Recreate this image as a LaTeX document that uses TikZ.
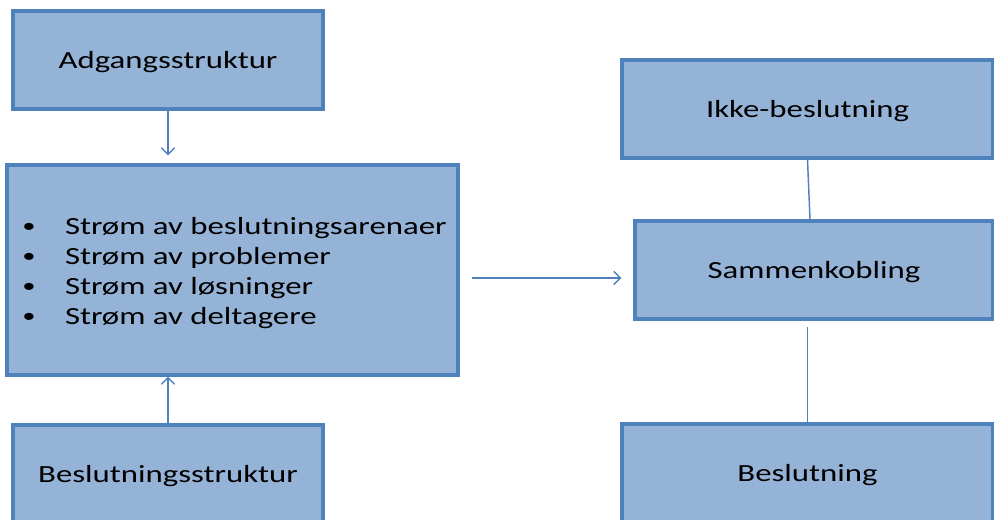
\documentclass[tikz,border=0pt]{standalone}
\usepackage{fontspec}
\setmainfont{Carlito}[FakeStretch=1.33]
\usetikzlibrary{arrows.meta,calc}
\definecolor{boxfill}{HTML}{95B3D7}
\definecolor{boxline}{HTML}{4F81BD}
\newcommand{\bul}{\raisebox{1.6pt}{\fontsize{15}{15}\selectfont •}}
\begin{document}
\begin{tikzpicture}[x=0.75pt,y=-0.75pt,
  box/.style={draw=boxline, fill=boxfill, line width=2.3pt, rectangle, inner sep=0pt,
              font=\fontsize{18.5}{22.5}\selectfont, text=black},
  onebox/.style={box, text depth=0pt},
  conn/.style={draw=boxline, line width=1.1pt},
  arrowed/.style={-{Straight Barb[length=5pt,width=10pt]}}]
\useasboundingbox (0,0) rectangle (994,520);
\clip (0,0) rectangle (994,520);
\node[onebox, minimum width=232.5pt, minimum height=73.5pt] (adg) at (168,60) {Adgangsstruktur};
\node[box, minimum width=338.25pt, minimum height=157.5pt, align=left] (strm) at (232.5,270)
  {\begin{tabular}{@{\hspace{3pt}}l@{\hspace{22pt}}l@{}}
   \bul & \rule{0pt}{20.5pt}Strøm av beslutningsarenaer\\
   \bul & Strøm av problemer\\
   \bul & Strøm av løsninger\\
   \bul & Strøm av deltagere
   \end{tabular}};
\node[onebox, minimum width=232.5pt, minimum height=73.5pt] (bst) at (168,474) {Beslutningsstruktur};
\node[onebox, minimum width=278.25pt, minimum height=73.5pt] (ikke) at (807.5,109) {Ikke-beslutning};
\node[onebox, minimum width=268.5pt, minimum height=73.5pt] (samm) at (814,270) {Sammenkobling};
\node[onebox, minimum width=278.25pt, minimum height=73.5pt] (besl) at (807.5,473) {Beslutning};

\draw[conn, arrowed, shorten >=6pt] (adg.south) -- (adg.south |- strm.north);
\draw[conn, arrowed] (bst.north) -- (bst.north |- strm.south);
\draw[conn, arrowed, shorten <=9pt, shorten >=9pt] ([yshift=-6pt]strm.east) -- ([yshift=-6pt]samm.west);
\draw[conn] (ikke.south) -- ([xshift=-3pt]samm.north);
\draw[conn, shorten <=5pt] (besl.north |- samm.south) -- (besl.north);
\end{tikzpicture}
\end{document}
